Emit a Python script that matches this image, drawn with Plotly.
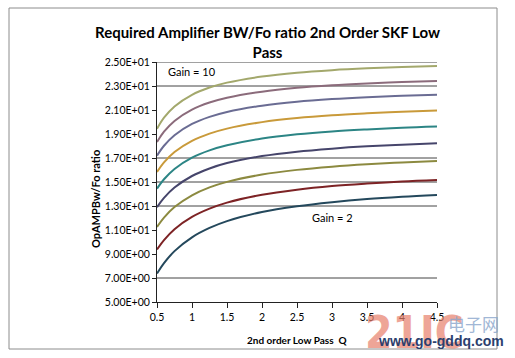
import plotly.graph_objects as go

# ---- data ----
q_values = [0.5, 0.6, 0.75, 1.0, 1.25, 1.5, 2.0, 2.5, 3.0, 3.5, 4.0, 4.5]

gain_10 = [19.44, 20.36, 21.30, 22.27, 22.87, 23.28, 23.79, 24.11, 24.32, 24.47, 24.58, 24.67]
gain_9 = [18.33, 19.19, 20.09, 21.03, 21.62, 22.02, 22.53, 22.85, 23.06, 23.21, 23.33, 23.42]
gain_8 = [17.20, 18.02, 18.90, 19.84, 20.43, 20.84, 21.36, 21.69, 21.91, 22.07, 22.19, 22.28]
gain_7 = [15.83, 16.63, 17.50, 18.43, 19.03, 19.45, 19.99, 20.33, 20.56, 20.72, 20.85, 20.95]
gain_6 = [14.45, 15.23, 16.09, 17.03, 17.64, 18.06, 18.62, 18.97, 19.21, 19.38, 19.52, 19.62]
gain_5 = [12.90, 13.68, 14.54, 15.50, 16.13, 16.58, 17.16, 17.53, 17.78, 17.97, 18.11, 18.22]
gain_4 = [11.25, 12.03, 12.91, 13.89, 14.55, 15.01, 15.62, 16.01, 16.28, 16.48, 16.63, 16.75]
gain_3 = [9.37, 10.16, 11.07, 12.09, 12.78, 13.28, 13.94, 14.36, 14.66, 14.87, 15.04, 15.17]
gain_2 = [7.37, 8.24, 9.24, 10.39, 11.17, 11.74, 12.50, 12.98, 13.32, 13.58, 13.77, 13.92]

series_names = ["Gain = 10", "Gain = 9", "Gain = 8", "Gain = 7", "Gain = 6",
                "Gain = 5", "Gain = 4", "Gain = 3", "Gain = 2"]
series_values = [gain_10, gain_9, gain_8, gain_7, gain_6, gain_5, gain_4, gain_3, gain_2]
series_colors = ["#a3a86c", "#8b6b7b", "#6a6c93", "#c99a3a", "#2c8585",
                 "#46456b", "#8c8a40", "#7d2325", "#24485c"]

y_tick_values = [5, 7, 9, 11, 13, 15, 17, 19, 21, 23, 25]
y_tick_labels = ["5.00E+00", "7.00E+00", "9.00E+00", "1.10E+01", "1.30E+01", "1.50E+01",
                 "1.70E+01", "1.90E+01", "2.10E+01", "2.30E+01", "2.50E+01"]
x_tick_values = [0.5, 1, 1.5, 2, 2.5, 3, 3.5, 4, 4.5]
x_tick_labels = ["0.5", "1", "1.5", "2", "2.5", "3", "3.5", "4", "4.5"]
# gridlines visible in the reference
grid_values = [7, 13, 15, 17, 23, 25]

# ---- figure ----
W, H = 515, 358
L, R, T, B = 157, 78, 62, 56
PW, PH = W - L - R, H - T - B


def px_x(p):
    return (p - L) / PW


def px_y(p):
    return 1 - (p - T) / PH


FONT = "Lato, 'Open Sans', sans-serif"

fig = go.Figure()
for name, vals, col in zip(series_names, series_values, series_colors):
    fig.add_trace(go.Scatter(x=q_values, y=vals, mode="lines", name=name,
                             line=dict(color=col, width=2, shape="spline", smoothing=1.0)))

shapes = []
for g in grid_values:
    shapes.append(dict(type="line", xref="paper", yref="y", x0=0, x1=1, y0=g, y1=g,
                       line=dict(color="#454545", width=1), layer="below"))
# outer chart frame
shapes.append(dict(type="rect", xref="paper", yref="paper",
                   x0=px_x(9), x1=px_x(497), y0=px_y(8), y1=px_y(349),
                   line=dict(color="#8c8c8c", width=1), layer="below"))

annotations = [
    dict(text="<b>Required Amplifier BW/Fo ratio 2nd Order SKF Low<br>Pass</b>", xref="paper", yref="paper",
         x=px_x(267), y=px_y(42), xanchor="center", yanchor="middle", showarrow=False,
         font=dict(family=FONT, size=15, color="#000000"), align="center"),
    dict(text="<b>OpAMPBw/Fo ratio</b>", xref="paper", yref="paper", x=px_x(95), y=px_y(199),
         textangle=-90, showarrow=False, xanchor="center", yanchor="middle",
         font=dict(family=FONT, size=11, color="#000000")),
    dict(text="<b>2nd order Low Pass  Q</b>", xref="paper", yref="paper", x=px_x(297), y=px_y(340),
         showarrow=False, xanchor="center", yanchor="middle",
         font=dict(family=FONT, size=10, color="#000000")),
    dict(text="Gain = 10", xref="paper", yref="paper", x=px_x(166), y=px_y(72),
         showarrow=False, xanchor="left", yanchor="middle",
         font=dict(family=FONT, size=11, color="#000000")),
    dict(text="Gain = 2", xref="paper", yref="paper", x=px_x(310), y=px_y(217),
         showarrow=False, xanchor="left", yanchor="middle",
         font=dict(family=FONT, size=11, color="#000000")),
    # watermark
    dict(text="<b>21IC</b>", xref="paper", yref="paper", x=px_x(414), y=px_y(332),
         showarrow=False, xanchor="center", yanchor="middle", opacity=0.7,
         font=dict(family="'Liberation Sans Narrow', 'DejaVu Sans Condensed', sans-serif",
                   size=44, color="#e8806c")),
    dict(text="电子网", xref="paper", yref="paper", x=px_x(473), y=px_y(323),
         showarrow=False, xanchor="center", yanchor="middle", opacity=0.8,
         font=dict(family="Noto Sans CJK SC, sans-serif", size=17, color="#8aa6cc")),
    dict(text="<b>www.go-gddq.com</b>", xref="paper", yref="paper", x=px_x(506), y=px_y(341),
         showarrow=False, xanchor="right", yanchor="middle",
         font=dict(family="'Liberation Sans', sans-serif", size=14, color="#2c3f6e")),
]

fig.update_layout(
    width=W, height=H,
    margin=dict(l=L, r=R, t=T, b=B, pad=0),
    paper_bgcolor="#ffffff", plot_bgcolor="#ffffff",
    showlegend=False,
    shapes=shapes,
    annotations=annotations,
    xaxis=dict(range=[0.5, 4.5], tickvals=x_tick_values, ticktext=x_tick_labels,
               showgrid=False, zeroline=False, showline=True, linecolor="#222222", linewidth=1,
               ticks="outside", ticklen=5, tickcolor="#222222",
               tickfont=dict(family=FONT, size=10.5, color="#000000")),
    yaxis=dict(range=[5, 25], tickvals=y_tick_values, ticktext=y_tick_labels,
               showgrid=False, zeroline=False, showline=True, linecolor="#222222", linewidth=1,
               ticks="outside", ticklen=4, tickcolor="#222222",
               tickfont=dict(family=FONT, size=10.5, color="#000000")),
)

fig.write_html("out.html", config={"displayModeBar": False},
               post_script="document.body.style.margin='0';document.body.style.overflow='hidden';")
